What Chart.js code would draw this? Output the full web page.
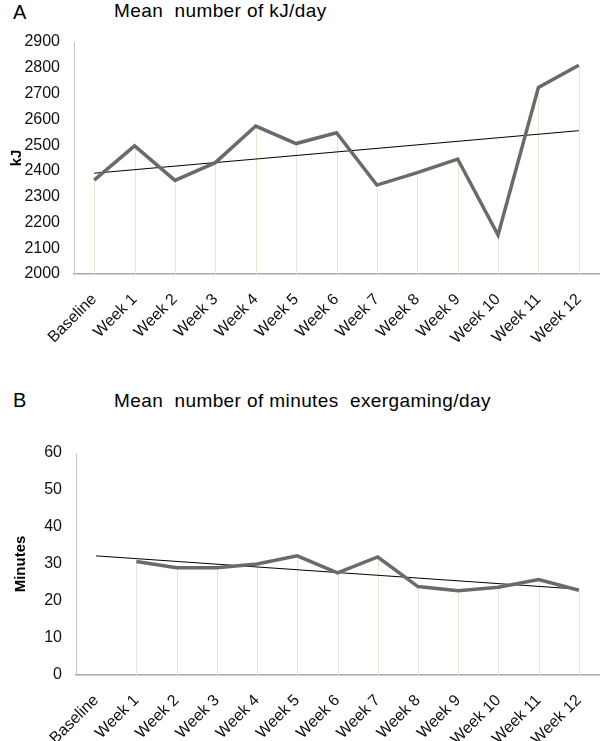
<!DOCTYPE html>
<html>
<head>
<meta charset="utf-8">
<script src="https://cdn.jsdelivr.net/npm/chart.js@4.4.1/dist/chart.umd.min.js"></script>
<style>
  body { margin: 0; background: #fff; width: 600px; height: 741px; position: relative; overflow: hidden;
         font-family: "Liberation Sans", Arial, sans-serif; color: #000; }
  .letter { position: absolute; left: 13px; font-size: 20px; line-height: 24px; }
  .title { position: absolute; left: 114px; font-size: 19px; line-height: 22px; white-space: pre; letter-spacing: 0.4px; }
  canvas { position: absolute; left: 0; }
</style>
</head>
<body>
<div class="letter" style="top:0px">A</div>
<div class="title" style="top:0px">Mean  number of kJ/day</div>
<div class="letter" style="top:388px">B</div>
<div class="title" style="top:390px">Mean  number of minutes  exergaming/day</div>
<canvas id="kjChart" width="600" height="370" style="top:0px"></canvas>
<canvas id="minChart" width="600" height="361" style="top:380px"></canvas>
<script>
// categories
var weeks = ['Baseline', 'Week 1', 'Week 2', 'Week 3', 'Week 4', 'Week 5', 'Week 6',
             'Week 7', 'Week 8', 'Week 9', 'Week 10', 'Week 11', 'Week 12'];

// A: mean kJ/day
var kjValues = [2364, 2497, 2363, 2432, 2574, 2506, 2548, 2345, 2393, 2446, 2151, 2724, 2810];
var kjTrend = [2391, null, null, null, null, null, null, null, null, null, null, null, 2556];

// B: mean minutes exergaming/day (no baseline value)
var minValues = [null, 30.7, 29.0, 29.0, 30.0, 32.2, 27.6, 31.9, 23.9, 22.8, 23.7, 25.8, 22.9];
var minTrend = [32.2, null, null, null, null, null, null, null, null, null, null, null, 23.2];

var tickFont = {family: '"Liberation Sans", Arial, sans-serif', size: 16};

// excel-style drop lines from each point down to the category axis
var dropLines = {
  id: 'dropLines',
  beforeDatasetsDraw: function(chart) {
    var ctx = chart.ctx;
    var meta = chart.getDatasetMeta(0);
    var bottom = chart.chartArea.bottom;
    ctx.save();
    ctx.strokeStyle = '#e9e6d3';
    ctx.lineWidth = 1;
    meta.data.forEach(function(pt, i) {
      if (chart.data.datasets[0].data[i] == null) return;
      ctx.beginPath();
      ctx.moveTo(Math.round(pt.x) + 0.5, pt.y);
      ctx.lineTo(Math.round(pt.x) + 0.5, bottom);
      ctx.stroke();
    });
    ctx.restore();
  }
};

function makeChart(id, values, trend, yMin, yMax, step, yTitle, opts) {
  var ctx = document.getElementById(id).getContext('2d');
  return new Chart(ctx, {
    type: 'line',
    data: {
      labels: weeks,
      datasets: [
        {data: values, borderColor: '#6a6a6a', borderWidth: 3.5, pointRadius: 0, tension: 0, spanGaps: false},
        {data: trend, borderColor: '#000', borderWidth: 1, pointRadius: 0, tension: 0, spanGaps: true}
      ]
    },
    options: {
      responsive: false,
      animation: false,
      layout: {padding: {top: opts.top, right: 1, left: 0, bottom: 0}},
      plugins: {legend: {display: false}, tooltip: {enabled: false}},
      scales: {
        x: {
          offset: true,
          grid: {display: false, drawTicks: false},
          border: {color: '#a6a6a6', width: 1.5},
          ticks: {color: '#111', font: tickFont, maxRotation: 45, minRotation: 45, padding: 16, autoSkip: false},
          afterFit: function(s) { s.height = opts.xHeight; s.paddingLeft = 0; s.paddingRight = 0; }
        },
        y: {
          min: yMin, max: yMax,
          grid: {display: false, drawTicks: false},
          border: {color: '#c8c8c8', width: 1},
          ticks: {stepSize: step, color: '#111', font: tickFont, padding: 14,
                  callback: function(v) { return String(v); }},
          title: {display: true, text: yTitle, color: '#000', padding: {top: opts.titlePad, bottom: 0},
                  font: {family: '"Liberation Sans", Arial, sans-serif', size: 15, weight: 'bold'}},
          afterFit: function(s) { s.width = opts.yWidth; }
        }
      }
    },
    plugins: [dropLines]
  });
}

makeChart('kjChart', kjValues, kjTrend, 2000, 2900, 100, 'kJ', {top: 42, xHeight: 96, yWidth: 74, titlePad: 8});
makeChart('minChart', minValues, minTrend, 0, 60, 10, 'Minutes', {top: 73, xHeight: 66, yWidth: 76, titlePad: 12});
</script>
</body>
</html>
